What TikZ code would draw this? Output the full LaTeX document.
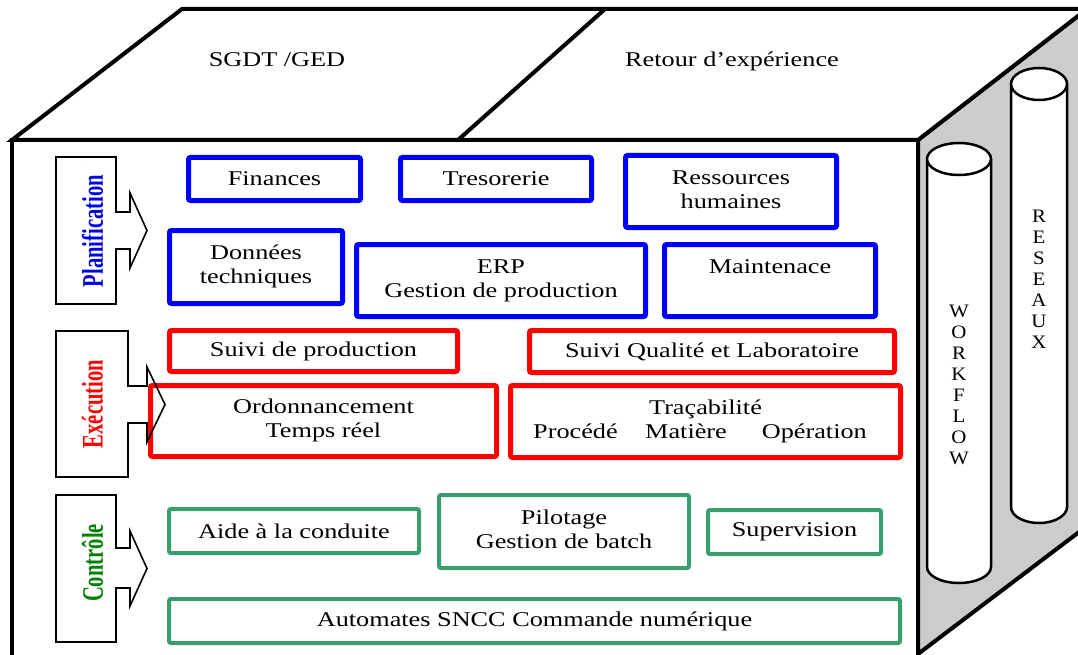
\documentclass[tikz,border=0pt]{standalone}
\usepackage{fontspec}
\setmainfont{Liberation Serif}
\usepackage{graphicx}
\definecolor{bxblue}{RGB}{0,0,255}
\definecolor{bxred}{RGB}{255,0,0}
\definecolor{bxgreen}{RGB}{56,158,108}
\definecolor{lblblue}{RGB}{0,0,230}
\definecolor{lblred}{RGB}{255,0,0}
\definecolor{lblgreen}{RGB}{0,128,0}
\definecolor{sidegray}{RGB}{204,204,204}
\newcommand{\wt}[1]{\scalebox{1.25}[1]{\begin{tabular}{@{}c@{}}#1\end{tabular}}}
\newcommand{\ws}[1]{\scalebox{1.25}[1]{#1}}
\newcommand{\vt}[1]{\scalebox{1.1}[1]{\begin{tabular}{@{}c@{}}#1\end{tabular}}}
\newcommand{\rl}[1]{\scalebox{1.45}[1]{\rotatebox{90}{#1}}}
\begin{document}
\begin{tikzpicture}[x=1pt,y=-1pt,
  cube/.style={line width=4pt, line join=miter},
  bx/.style={draw, line width=5pt, rounded corners=2pt, inner sep=0pt, font=\fontsize{21}{24}\selectfont},
  bbox/.style={bx, draw=bxblue},
  rbox/.style={bx, draw=bxred},
  gbox/.style={bx, line width=4pt, draw=bxgreen},
  call/.style={draw, line width=1.6pt, line join=miter},
  cyl/.style={draw, line width=2.5pt, fill=white},
  toptxt/.style={anchor=base, inner sep=0pt, font=\fontsize{21}{24}\selectfont},
  cyltxt/.style={inner sep=0pt, font=\fontsize{19}{21}\selectfont},
  lbl/.style={inner sep=0pt, font=\fontsize{20.6}{24}\selectfont\bfseries}
]
\useasboundingbox (0,0) rectangle (1078,655);
\begin{scope}
\clip (0,0) rectangle (1078,655);
% side face
\draw[cube, fill=sidegray] (918,140) -- (1087,9) -- (1087,526) -- (918,654) -- cycle;
% top face
\draw[cube, fill=white] (12,140) -- (182,9) -- (1087,9) -- (918,140) -- cycle;
\draw[cube] (458,140) -- (605,9);
% front face
\draw[cube, fill=white] (12,140) rectangle (918,662);
\end{scope}

\node[toptxt] (sgdt) at (277,67) {\ws{SGDT /GED}};
\node[toptxt] (rex) at (732,67) {\ws{Retour d’expérience}};

% cylinders
\draw[cyl] (927,159) -- (927,567) arc[start angle=180, end angle=0, x radius=32, y radius=16] -- (991,159);
\draw[cyl] (959,159) ellipse [x radius=32, y radius=16];
\draw[cyl] (1011,84) -- (1011,507) arc[start angle=180, end angle=0, x radius=28, y radius=16] -- (1067,84);
\draw[cyl] (1039,84) ellipse [x radius=28, y radius=16];
\node[cyltxt] (wf) at (959,387) {\vt{W\\O\\R\\K\\F\\L\\O\\W}};
\node[cyltxt] (res) at (1039,281) {\vt{R\\E\\S\\E\\A\\U\\X}};

% Planification
\node[bbox, minimum width=172, minimum height=43] (fin) at (274.5,179) {\ws{Finances}};
\node[bbox, minimum width=191, minimum height=43] (tres) at (496,179) {\ws{Tresorerie}};
\node[bbox, minimum width=211, minimum height=72] (rh) at (731,191.5) {\wt{Ressources\\humaines}};
\node[bbox, minimum width=173, minimum height=73] (dt) at (256,267) {\wt{Données\\techniques}};
\node[bbox, minimum width=289, minimum height=72] (erp) at (501,280.5) {\wt{ERP\\Gestion de production}};
\node[bbox, minimum width=211, minimum height=72] (mnt) at (770,280.5) {\wt{Maintenace\\~}};

% Execution
\node[rbox, minimum width=288, minimum height=41] (sp) at (313.5,351) {\ws{Suivi de production}};
\node[rbox, minimum width=365, minimum height=42] (sq) at (712,351.5) {\ws{Suivi Qualité et Laboratoire}};
\node[rbox, minimum width=346, minimum height=71] (ord) at (323.5,421) {\wt{Ordonnancement\\Temps réel}};
\node[rbox, minimum width=390, minimum height=72] (trc) at (705.5,421.5) {\wt{Traçabilité\\\hspace*{-8.8pt}Procédé\hspace{22pt}Matière\hspace{28pt}Opération}};

% Controle
\node[gbox, minimum width=250, minimum height=44] (aide) at (294,531) {\ws{Aide à la conduite}};
\node[gbox, minimum width=250, minimum height=73] (pil) at (564,531.5) {\wt{Pilotage\\Gestion de batch}};
\node[gbox, minimum width=173, minimum height=44] (sup) at (794.5,532) {\ws{Supervision}};
\node[gbox, minimum width=731, minimum height=44] (auto) at (534.5,621) {\ws{Automates SNCC Commande numérique}};

% callout arrows
\draw[call] (56,157) -- (116,157) -- (116,212) -- (130,212) -- (130,193) -- (147,230.5) -- (130,268) -- (130,249) -- (116,249) -- (116,304) -- (56,304) -- cycle;
\draw[call] (56,331) -- (128,331) -- (128,386) -- (147,386) -- (147,367) -- (165,404.5) -- (147,442) -- (147,423) -- (128,423) -- (128,477) -- (56,477) -- cycle;
\draw[call] (56,495) -- (116,495) -- (116,548) -- (130,548) -- (130,531) -- (147,568.5) -- (130,606) -- (130,588) -- (116,588) -- (116,642) -- (56,642) -- cycle;
\node[lbl, text=lblblue] (lplan) at (92.5,231) {\rl{Planification}};
\node[lbl, text=lblred] (lexec) at (92.5,404) {\rl{Exécution}};
\node[lbl, text=lblgreen] (lctrl) at (92.5,563) {\rl{Contrôle}};
\end{tikzpicture}
\end{document}
